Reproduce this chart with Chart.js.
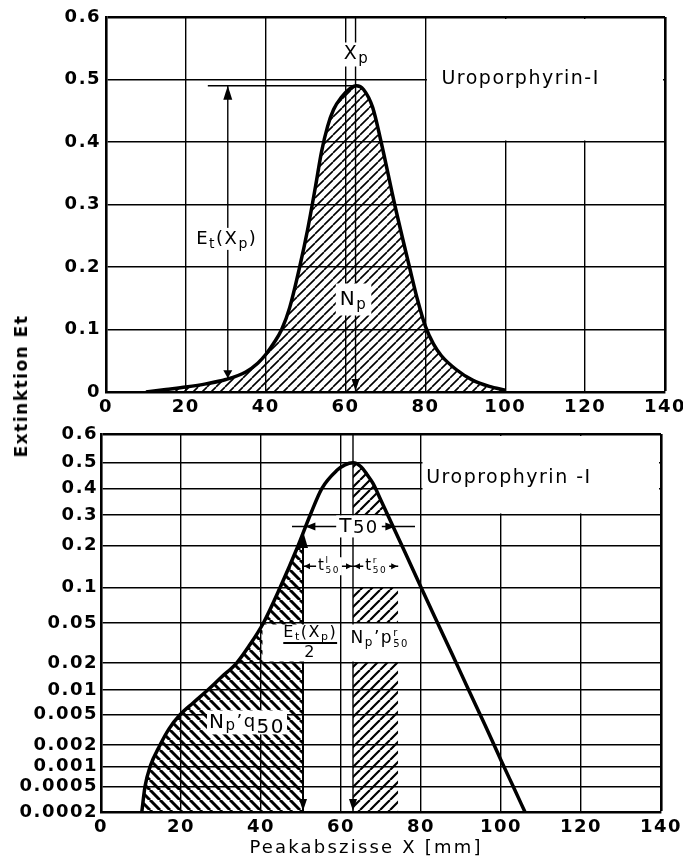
<!DOCTYPE html>
<html>
<head>
<meta charset="utf-8">
<title>Uroporphyrin-I Peak</title>
<script src="https://cdn.jsdelivr.net/npm/chart.js@4.4.1/dist/chart.umd.min.js"></script>
<style>
  html, body { margin:0; padding:0; background:#fff; }
  body { width:683px; height:861px; position:relative; overflow:hidden; font-family:"DejaVu Sans", sans-serif; color:#000; }
  canvas { position:absolute; left:0; }
  #topChart { top:0; }
  #botChart { top:420px; }
  .ytitle { position:absolute; left:21px; top:386px; transform:translate(-50%,-50%) rotate(-90deg); font-weight:bold; font-size:17px; letter-spacing:1.5px; white-space:nowrap; }
  .xtitle { position:absolute; left:366px; top:846px; transform:translate(-50%,-50%); font-size:18px; letter-spacing:2.2px; white-space:nowrap; }
</style>
</head>
<body>
<canvas id="topChart" width="683" height="420"></canvas>
<canvas id="botChart" width="683" height="441"></canvas>
<div class="ytitle">Extinktion Et</div>
<div class="xtitle">Peakabszisse X [mm]</div>
<script>
/***** ───────── Daten ───────── */
const X_TICKS     = [0, 20, 40, 60, 80, 100, 120, 140];
const TOP_Y_TICKS = [0, 0.1, 0.2, 0.3, 0.4, 0.5, 0.6];
const BOT_Y_TICKS = [0.0002, 0.0005, 0.001, 0.002, 0.005, 0.01, 0.02, 0.05, 0.1, 0.2, 0.3, 0.4, 0.5, 0.6];

// oben: lineare Extinktion
const TOP_X = [10, 15, 20, 25, 30, 35, 38, 40, 42, 44, 46, 48.5, 50.5, 52.5, 54, 55.5, 57, 59, 61, 62.7,
               64.5, 66.8, 68.9, 72.3, 76, 78, 80, 82, 84, 87.7, 91.8, 96, 100];
const TOP_E = [0, 0.004, 0.008, 0.013, 0.02, 0.032, 0.046, 0.06, 0.078, 0.1, 0.135, 0.2, 0.26, 0.33, 0.385, 0.425, 0.452, 0.472, 0.485, 0.49,
               0.484, 0.455, 0.4, 0.3, 0.2, 0.148, 0.105, 0.077, 0.058, 0.036, 0.019, 0.009, 0.003];

// unten: Wahrscheinlichkeitsteilung
const BOT_X = [10.2, 11, 12.3, 14.75, 17, 19.75, 23, 26.9, 30, 33.9, 37, 40.6, 44.75, 49.3, 52.3, 55.2, 58.9, 61, 63,
               65, 66.5, 68, 70, 72, 76, 80, 84, 88, 92, 96, 100, 103, 106];
const BOT_E = [0.0002, 0.0005, 0.001, 0.002, 0.0033, 0.005, 0.007, 0.0102, 0.0139, 0.02, 0.03, 0.05, 0.1, 0.2, 0.3, 0.4, 0.47, 0.492, 0.5,
               0.485, 0.455, 0.42, 0.354, 0.29, 0.181, 0.101, 0.0514, 0.0237, 0.0098, 0.0037, 0.00123, 0.00051, 0.0002];

// Marken (Datenkoordinaten)
const XP_TOP = 62.5, XP_BOT = 63;
const E_XP = 0.49;                 // Et(Xp)
const ET_ARROW_X = 30.5, ET_ARROW_LOW = 0.022, LEVEL_FROM = 25.5;
const HALF_X = 50.5, HALF_E = 0.245;          // Et(Xp)/2
const T50_Y = 0.26, T50_FROM = 47.75, T50_TO = 78.5, T50_L = 51.1, T50_R = 73.6;
const T_ROW_Y = 0.145;
const CAP_E = 0.3;
const NP_BAND_X = [63, 74.3];
const NP_BANDS  = [[0.1, 0.05], [0.02, 0.0002]];
const TOP_BOX = { x: [80, 140], y: [0.4, 0.6] };
const BOT_BOX = { x: [80, 140], y: [0.3, 0.6] };
/***** ─────────────────────── */

const FONT = 'DejaVu Sans';
const PROB_A = 0.7;

// eigene Achse: sqrt(ln(A/E)) ist linear im Papier
class ExtScale extends Chart.Scale {
  static id = 'extinction';
  static defaults = {};
  determineDataLimits() { this.min = this.options.min; this.max = this.options.max; }
  buildTicks() { return []; }
  getLabelForValue(v) { return String(v); }
  _t(v) { return -Math.sqrt(Math.log(PROB_A / v)); }
  getPixelForValue(v) {
    const a = this._t(this.min), b = this._t(this.max);
    return this.getPixelForDecimal((this._t(v) - a) / (b - a));
  }
  getValueForPixel(p) {
    const a = this._t(this.min), b = this._t(this.max);
    const t = a + this.getDecimalForPixel(p) * (b - a);
    return PROB_A * Math.exp(-t * t);
  }
}
Chart.register(ExtScale);

function hatch(dir, s, lw) {
  const c = document.createElement('canvas'); c.width = c.height = s;
  const g = c.getContext('2d');
  g.strokeStyle = '#000'; g.lineWidth = lw;
  g.beginPath();
  for (const o of [-s, 0, s]) {
    if (dir === '/') { g.moveTo(o, s); g.lineTo(o + s, 0); }
    else { g.moveTo(o, 0); g.lineTo(o + s, s); }
  }
  g.stroke();
  return g.createPattern(c, 'repeat');
}

function f(size, w) { return `${w || 'normal'} ${size}px "${FONT}"`; }
function seg(ctx, x1, y1, x2, y2, w) {
  ctx.lineWidth = w; ctx.beginPath(); ctx.moveTo(x1, y1); ctx.lineTo(x2, y2); ctx.stroke();
}
function head(ctx, x, y, ang, len, half) {
  const c = Math.cos(ang), s = Math.sin(ang);
  ctx.beginPath(); ctx.moveTo(x, y);
  ctx.lineTo(x - len * c + half * s, y - len * s - half * c);
  ctx.lineTo(x - len * c - half * s, y - len * s + half * c);
  ctx.closePath(); ctx.fill();
}
const UP = -Math.PI / 2, DOWN = Math.PI / 2, LEFT = Math.PI, RIGHT = 0;

// Text mit Indizes: runs [{t, s, dy, sup, supS, supDy}]
function runs(ctx, list, x, y, opt) {
  opt = opt || {};
  let w = 0;
  for (const r of list) {
    ctx.font = f(r.s, r.w);
    r.width = ctx.measureText(r.t).width;
    if (r.sup) { ctx.font = f(r.supS, r.w); r.width = Math.max(r.width, ctx.measureText(r.sup).width); }
    w += r.width;
  }
  let x0 = opt.align === 'left' ? x : x - w / 2;
  if (opt.bg) { ctx.fillStyle = '#fff'; ctx.fillRect(x0 - opt.bg, y - opt.h / 2, w + 2 * opt.bg, opt.h); }
  ctx.fillStyle = '#000'; ctx.textAlign = 'left'; ctx.textBaseline = 'middle';
  for (const r of list) {
    ctx.font = f(r.s, r.w);
    ctx.fillText(r.t, x0, y + (r.dy || 0));
    if (r.sup) { ctx.font = f(r.supS, r.w); ctx.fillText(r.sup, x0, y + r.supDy); }
    x0 += r.width;
  }
  return w;
}

const spacing = {
  id: 'spacing',
  beforeLayout(c) { c.ctx.letterSpacing = '1.5px'; },
  beforeDraw(c) { c.ctx.letterSpacing = '1.5px'; }
};

function whiteBox(chart, box) {
  const { x, y } = chart.scales, ctx = chart.ctx;
  const x1 = x.getPixelForValue(box.x[0]) + 1.5, x2 = x.getPixelForValue(box.x[1]) - 2;
  const y1 = y.getPixelForValue(box.y[1]) + 2, y2 = y.getPixelForValue(box.y[0]) - 1.5;
  ctx.save(); ctx.fillStyle = '#fff'; ctx.fillRect(x1, y1, x2 - x1, y2 - y1); ctx.restore();
}

const TICK_FONT = { family: FONT, size: 18, weight: 'bold' };
function xAxis(h) {
  return {
    type: 'linear', min: 0, max: 140,
    afterBuildTicks: s => { s.ticks = X_TICKS.map(v => ({ value: v })); },
    grid: { color: '#000', drawTicks: false, lineWidth: c => (c.tick && c.tick.value === 140 ? 2.6 : 1.4) },
    border: { color: '#000', width: 2.6 },
    ticks: { color: '#000', font: TICK_FONT, padding: 5, maxRotation: 0, autoSkip: false },
    afterFit: s => { s.height = h; s.paddingLeft = 0; s.paddingRight = 0; }
  };
}
function yGrid() {
  return { color: '#000', drawTicks: false, lineWidth: c => (c.tick && c.tick.value === 0.6 ? 2.6 : 1.4) };
}

/***** ─────── oberes Diagramm ─────── */
const topPts = TOP_X.map((x, i) => ({ x, y: TOP_E[i] }));

const topDeco = {
  id: 'topDeco',
  beforeDatasetsDraw(chart) { whiteBox(chart, TOP_BOX); },
  beforeDatasetDraw(chart, args) {
    if (args.index !== 0) return;
    const ctx = chart.ctx, X = v => chart.scales.x.getPixelForValue(v), Y = v => chart.scales.y.getPixelForValue(v);
    ctx.save();
    ctx.strokeStyle = '#000'; ctx.fillStyle = '#000'; ctx.lineCap = 'butt';
    // Xp-Linie
    seg(ctx, X(XP_TOP), Y(0.6), X(XP_TOP), Y(0), 1.4);
    head(ctx, X(XP_TOP), Y(0) - 1, DOWN, 12, 4);
    // Et(Xp)-Pfeil und Niveau
    seg(ctx, X(LEVEL_FROM), Y(E_XP), X(XP_TOP), Y(E_XP), 1.4);
    seg(ctx, X(ET_ARROW_X), Y(E_XP), X(ET_ARROW_X), Y(ET_ARROW_LOW), 1.4);
    head(ctx, X(ET_ARROW_X), Y(E_XP), UP, 14, 4.5);
    head(ctx, X(ET_ARROW_X), Y(ET_ARROW_LOW), DOWN, 8, 4.5);
    // Beschriftungen
    runs(ctx, [{ t: 'X', s: 19 }, { t: 'p', s: 15, dy: 5 }], X(XP_TOP) + 1, Y(0.54), { bg: 2, h: 24 });
    runs(ctx, [{ t: 'E', s: 18 }, { t: 't', s: 14, dy: 5 }, { t: '(X', s: 18 }, { t: 'p', s: 14, dy: 5 }, { t: ')', s: 18 }],
      X(ET_ARROW_X) - 1, Y(0.245), { bg: 2, h: 22 });
    runs(ctx, [{ t: 'N', s: 20 }, { t: 'p', s: 15, dy: 6 }], X(62), Y(0.148), { bg: 4, h: 32 });
    runs(ctx, [{ t: 'Uroporphyrin-I', s: 19 }], X(84), Y(0.5), { align: 'left' });
    ctx.restore();
  }
};

new Chart(document.getElementById('topChart'), {
  type: 'line',
  data: {
    datasets: [{
      data: topPts, borderColor: '#000', borderWidth: 3.5, pointRadius: 0,
      cubicInterpolationMode: 'monotone', fill: 'origin', backgroundColor: hatch('/', 9, 1.6)
    }]
  },
  options: {
    responsive: false, animation: false, events: [],
    layout: { padding: { top: 17, right: 18, left: 0, bottom: 0 } },
    plugins: { legend: { display: false }, tooltip: { enabled: false } },
    scales: {
      x: xAxis(28),
      y: {
        type: 'linear', min: 0, max: 0.6,
        afterBuildTicks: s => { s.ticks = TOP_Y_TICKS.map(v => ({ value: v })); },
        grid: yGrid(), border: { color: '#000', width: 2.6 },
        ticks: { color: '#000', font: TICK_FONT, padding: 5, autoSkip: false, callback: v => (v === 0 ? '0' : v.toFixed(1)) },
        afterFit: s => { s.width = 106; s.paddingTop = 0; s.paddingBottom = 0; }
      }
    }
  },
  plugins: [spacing, topDeco]
});

/***** ─────── unteres Diagramm ─────── */
const botPts = BOT_X.map((x, i) => ({ x, y: BOT_E[i] }));

function lerpX(i, e) { // x zwischen Punkt i-1 und i bei Extinktion e
  const t = (e - BOT_E[i - 1]) / (BOT_E[i] - BOT_E[i - 1]);
  return BOT_X[i - 1] + t * (BOT_X[i] - BOT_X[i - 1]);
}

// linke Fläche Np·q50: Kurve bis HALF_X
const leftPts = botPts.filter(p => p.x < HALF_X);
{
  const i = BOT_X.findIndex(x => x >= HALF_X);
  const t = (HALF_X - BOT_X[i - 1]) / (BOT_X[i] - BOT_X[i - 1]);
  leftPts.push({ x: HALF_X, y: BOT_E[i - 1] + t * (BOT_E[i] - BOT_E[i - 1]) });
}
// rechte Fläche: Kappe unter dem Maximum bis CAP_E und zwei Bänder
const capPts = [];
for (let i = BOT_X.indexOf(XP_BOT); i < BOT_X.length; i++) {
  if (BOT_E[i] >= CAP_E) { capPts.push(botPts[i]); continue; }
  capPts.push({ x: lerpX(i, CAP_E), y: CAP_E });
  break;
}
const bandSets = NP_BANDS.map(([hi, lo]) => ({
  data: NP_BAND_X.map(x => ({ x, y: hi })),
  fill: lo === 0.0002 ? 'origin' : { value: lo }
}));

const hatchL = hatch('\\', 10, 3);
const hatchR = hatch('/', 10, 2.2);

const botDeco = {
  id: 'botDeco',
  beforeDatasetsDraw(chart) { whiteBox(chart, BOT_BOX); },
  beforeDatasetDraw(chart, args) {
    if (args.index !== 0) return;
    const ctx = chart.ctx, X = v => chart.scales.x.getPixelForValue(v), Y = v => chart.scales.y.getPixelForValue(v);
    ctx.save();
    ctx.strokeStyle = '#000'; ctx.fillStyle = '#000'; ctx.lineCap = 'butt';
    // Xp-Linie
    seg(ctx, X(XP_BOT), Y(0.6), X(XP_BOT), Y(0.0002), 1.4);
    head(ctx, X(XP_BOT), Y(0.0002) - 1, DOWN, 12, 4);
    // Et(Xp)/2 Pfeil
    seg(ctx, X(HALF_X), Y(HALF_E), X(HALF_X), Y(0.0002), 2);
    head(ctx, X(HALF_X), Y(HALF_E), UP, 17, 5);
    head(ctx, X(HALF_X), Y(0.0002) - 1, DOWN, 12, 4);
    // T50
    seg(ctx, X(T50_FROM), Y(T50_Y), X(T50_TO), Y(T50_Y), 1.4);
    head(ctx, X(T50_L), Y(T50_Y), LEFT, 10, 4);
    head(ctx, X(T50_R), Y(T50_Y), RIGHT, 10, 4);
    // t50 links/rechts
    seg(ctx, X(HALF_X), Y(T_ROW_Y), X(NP_BAND_X[1]), Y(T_ROW_Y), 1.4);
    head(ctx, X(HALF_X) + 1, Y(T_ROW_Y), LEFT, 6, 3);
    head(ctx, X(XP_BOT) - 1, Y(T_ROW_Y), RIGHT, 6, 3);
    head(ctx, X(XP_BOT) + 1, Y(T_ROW_Y), LEFT, 6, 3);
    head(ctx, X(NP_BAND_X[1]) - 1, Y(T_ROW_Y), RIGHT, 6, 3);
    // Weisse Felder der Bandbeschriftung
    const yHi = Y(0.05) + 1.5, yLo = Y(0.02) - 1.5;
    ctx.fillStyle = '#fff';
    ctx.fillRect(X(40) + 1.5, yHi, X(60) - X(40) - 3, yLo - yHi);
    ctx.fillRect(X(60) + 1.5, yHi, X(77) - X(60) - 1.5, yLo - yHi);
    const yMid = (yHi + yLo) / 2;
    // Beschriftungen
    runs(ctx, [{ t: 'T', s: 20 }, { t: '50', s: 18, dy: 2 }], X(64.5), Y(T50_Y), { bg: 3, h: 22 });
    runs(ctx, [{ t: 't', s: 15 }, { t: '50', s: 9, dy: 4, sup: 'l', supS: 9, supDy: -6 }], X(57), Y(T_ROW_Y), { bg: 2, h: 18 });
    runs(ctx, [{ t: 't', s: 15 }, { t: '50', s: 9, dy: 4, sup: 'r', supS: 9, supDy: -6 }], X(68.8), Y(T_ROW_Y), { bg: 2, h: 18 });
    const w = runs(ctx, [{ t: 'E', s: 16 }, { t: 't', s: 11, dy: 4 }, { t: '(X', s: 16 }, { t: 'p', s: 11, dy: 4 }, { t: ')', s: 16 }],
      X(52.3), yMid - 10);
    ctx.fillStyle = '#000'; ctx.fillRect(X(52.3) - w / 2, yMid - 1, w, 2);
    runs(ctx, [{ t: '2', s: 16 }], X(52.3), yMid + 10);
    runs(ctx, [{ t: 'N', s: 17 }, { t: 'p', s: 12, dy: 4 }, { t: '\u2019', s: 17 }, { t: 'p', s: 17 },
      { t: '50', s: 10, dy: 5, sup: 'r', supS: 10, supDy: -6 }], X(62.4), yMid - 4, { align: 'left' });
    runs(ctx, [{ t: 'N', s: 20 }, { t: 'p', s: 15, dy: 4 }, { t: '\u2019', s: 18 }, { t: 'q', s: 18 }, { t: '50', s: 20, dy: 5 }],
      X(36.5), Y(0.004), { bg: 2, h: 24 });
    runs(ctx, [{ t: 'Uroprophyrin -I', s: 19 }], X(81.3), Y(0.44), { align: 'left' });
    ctx.restore();
  }
};

new Chart(document.getElementById('botChart'), {
  type: 'line',
  data: {
    datasets: [
      { data: botPts, borderColor: '#000', borderWidth: 3.5, pointRadius: 0, cubicInterpolationMode: 'monotone', fill: false, order: 0 },
      { data: leftPts, borderWidth: 0, pointRadius: 0, cubicInterpolationMode: 'monotone', fill: 'origin', backgroundColor: hatchL, order: 1 },
      { data: capPts, borderWidth: 0, pointRadius: 0, cubicInterpolationMode: 'monotone', fill: { value: CAP_E }, backgroundColor: hatchR, order: 1 },
      ...bandSets.map(b => ({ data: b.data, borderWidth: 0, pointRadius: 0, fill: b.fill, backgroundColor: hatchR, order: 1 }))
    ]
  },
  options: {
    responsive: false, animation: false, events: [],
    layout: { padding: { top: 14, right: 22, left: 0, bottom: 0 } },
    plugins: { legend: { display: false }, tooltip: { enabled: false } },
    scales: {
      x: xAxis(49),
      y: {
        type: 'extinction', min: 0.0002, max: 0.6,
        afterBuildTicks: s => { s.ticks = BOT_Y_TICKS.map(v => ({ value: v })); },
        grid: yGrid(), border: { color: '#000', width: 2.6 },
        ticks: { color: '#000', font: TICK_FONT, padding: 3, autoSkip: false, callback: v => String(v) },
        afterFit: s => { s.width = 101; s.paddingTop = 0; s.paddingBottom = 0; }
      }
    }
  },
  plugins: [spacing, botDeco]
});
</script>
</body>
</html>
